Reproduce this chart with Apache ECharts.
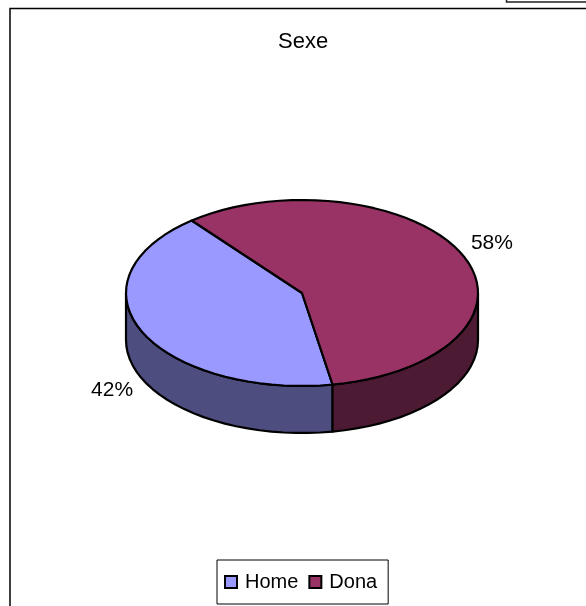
<!DOCTYPE html>
<html>
<head>
<meta charset="utf-8">
<style>html,body{margin:0;padding:0;background:#fff}#c{width:586px;height:606px}</style>
<script src="https://cdn.jsdelivr.net/npm/echarts@6/dist/echarts.min.js"></script>
</head>
<body>
<div id="c"></div>
<script>
const categories = ['Home', 'Dona'];
const values = [42, 58];
const topColors = ['#9999FF', '#993366'];
const sideColors = ['#4D4D80', '#4D1A33'];
const chartTitle = 'Sexe';

const FONT = '"Liberation Sans", Arial, sans-serif';
const CX = 302, CY = 293, RX = 176, RY = 93, DEPTH = 47;
const START_DEG = 170; // clockwise from 12 o'clock
const total = values.reduce((a, b) => a + b, 0);

function pt(deg, dy) {
  const a = deg * Math.PI / 180;
  return [CX + RX * Math.sin(a), CY - RY * Math.cos(a) + (dy || 0)];
}
function arc(from, to, dy) {
  const pts = [];
  const n = Math.max(2, Math.ceil((to - from) / 4));
  for (let i = 0; i <= n; i++) pts.push(pt(from + (to - from) * i / n, dy));
  return pts;
}
function sliceRange(idx) {
  let s = START_DEG;
  for (let i = 0; i < idx; i++) s += values[i] / total * 360;
  return [s, s + values[idx] / total * 360];
}
// parts of [a,b] lying on the front half (90..270 mod 360)
function frontRanges(a, b) {
  const out = [];
  for (let k = -1; k <= 2; k++) {
    const lo = Math.max(a, 90 + 360 * k), hi = Math.min(b, 270 + 360 * k);
    if (hi > lo) out.push([lo, hi]);
  }
  return out;
}
const edge = { stroke: '#000', lineWidth: 2.2, lineJoin: 'round' };

function makeRender(idx) {
  return function () {
    const [a, b] = sliceRange(idx);
    const children = [];
    frontRanges(a, b).forEach(([lo, hi]) => {
      const pts = arc(lo, hi, 0).concat(arc(lo, hi, DEPTH).reverse());
      children.push({ type: 'polygon', shape: { points: pts },
        style: Object.assign({ fill: sideColors[idx] }, edge) });
    });
    const top = [[CX, CY]].concat(arc(a, b, 0));
    children.push({ type: 'polygon', shape: { points: top },
      style: Object.assign({ fill: topColors[idx] }, edge) });
    const mid = (a + b) / 2 * Math.PI / 180;
    const c = Math.cos(mid);
    const lx = CX + 1.185 * RX * Math.sin(mid);
    const ly = CY - 1.3 * RY * c + (c < 0 ? DEPTH : 0);
    children.push({ type: 'text', z2: 10, style: {
      x: lx, y: ly, text: values[idx] + '%', fill: '#000',
      font: '21px ' + FONT, align: 'center', verticalAlign: 'middle' } });
    return { type: 'group', children };
  };
}

const chart = echarts.init(document.getElementById('c'), null, { renderer: 'canvas' });
chart.setOption({
  animation: false,
  backgroundColor: '#fff',
  title: {
    text: chartTitle, left: 273, top: 26,
    textStyle: { fontFamily: FONT, fontSize: 22, fontWeight: 'normal', color: '#000' }
  },
  legend: {
    data: categories, left: 217, top: 560, orient: 'horizontal',
    icon: 'rect', itemWidth: 12, itemHeight: 12, itemGap: 10,
    padding: [12, 11, 12, 7], borderColor: '#000', borderWidth: 1,
    selectedMode: false,
    itemStyle: { borderColor: '#000', borderWidth: 2 },
    textStyle: { fontFamily: FONT, fontSize: 20, color: '#000', padding: [0, 0, 0, 3] }
  },
  graphic: [
    { type: 'polyline', silent: true, shape: { points: [[10, 606], [10, 8.5], [586, 8.5]] }, style: { stroke: '#000', lineWidth: 1.5, fill: null } },
    { type: 'polyline', silent: true, shape: { points: [[506.5, 0], [506.5, 2], [586, 2]] }, style: { stroke: '#222', lineWidth: 1.5, fill: null } }
  ],
  series: categories.map((name, i) => ({
    type: 'custom', name, coordinateSystem: 'none',
    data: [values[i]], itemStyle: { color: topColors[i] },
    renderItem: makeRender(i), z: 2
  }))
});
</script>
</body>
</html>
